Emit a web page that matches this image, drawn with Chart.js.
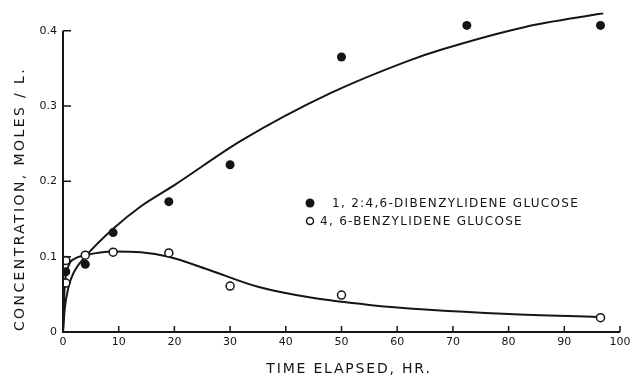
<!DOCTYPE html>
<html>
<head>
<meta charset="utf-8">
<script src="https://cdn.jsdelivr.net/npm/chart.js@4.4.1/dist/chart.umd.min.js"></script>
<style>
    html, body { margin: 0; padding: 0; background: #fff; }
</style>
</head>
<body>
<canvas id="chart" width="631" height="378"></canvas>
<script>
/* -------------------------------------------------
    DATA
------------------------------------------------- */
const xTicks = [0, 10, 20, 30, 40, 50, 60, 70, 80, 90, 100];
const yTicks = [0, 0.1, 0.2, 0.3, 0.4];

// measured points, 1,2:4,6-dibenzylidene glucose (filled dots)
const diHours = [0.5, 4, 9, 19, 30, 50, 72.5, 96.5];
const diConc = [0.08, 0.09, 0.132, 0.173, 0.222, 0.365, 0.407, 0.407];

// measured points, 4,6-benzylidene glucose (open circles)
const monoHours = [0.5, 0.5, 4, 9, 19, 30, 50, 96.5];
const monoConc = [0.095, 0.065, 0.102, 0.106, 0.105, 0.061, 0.049, 0.019];

// hand-drawn smooth curves
const diCurveHours = [0, 0.3, 1, 2, 4, 9, 14, 20, 32, 48, 62, 68, 83, 97];
const diCurveConc = [0, 0.03, 0.06, 0.08, 0.1, 0.137, 0.167, 0.195, 0.254, 0.317, 0.36, 0.375, 0.405, 0.423];
const monoCurveHours = [0, 0.3, 1, 2, 4, 9, 14, 19, 26, 35, 45, 55, 65, 80, 96];
const monoCurveConc = [0, 0.06, 0.088, 0.097, 0.102, 0.107, 0.106, 0.1, 0.083, 0.06, 0.045, 0.036, 0.03, 0.024, 0.02];

const legendLabels = ['1, 2:4,6-DIBENZYLIDENE GLUCOSE', '4, 6-BENZYLIDENE GLUCOSE'];
const xTitle = 'TIME ELAPSED, HR.';
const yTitle = 'CONCENTRATION, MOLES / L.';

const ink = '#151515';
const fontFamily = '"DejaVu Sans", sans-serif';

const toPoints = (xs, ys) => xs.map((x, i) => ({ x: x, y: ys[i] }));

/* -------------------------------------------------
    PLUGIN: axis lines with inward ticks, titles, legend
------------------------------------------------- */
const paperPlugin = {
    id: 'paper',
    afterDraw(chart) {
        const { ctx, scales: { x, y } } = chart;
        const x0 = x.getPixelForValue(0);
        const y0 = y.getPixelForValue(0);

        ctx.save();
        ctx.strokeStyle = ink;
        ctx.lineWidth = 2;
        ctx.beginPath();
        ctx.moveTo(x0, y.getPixelForValue(yTicks[yTicks.length - 1]));
        ctx.lineTo(x0, y0);
        ctx.lineTo(x.getPixelForValue(xTicks[xTicks.length - 1]), y0);
        ctx.stroke();

        ctx.lineWidth = 1.5;
        ctx.beginPath();
        yTicks.slice(1).forEach(v => {
            const py = y.getPixelForValue(v);
            ctx.moveTo(x0, py);
            ctx.lineTo(x0 + 8, py);
        });
        xTicks.slice(1).forEach(v => {
            const px = x.getPixelForValue(v);
            ctx.moveTo(px, y0);
            ctx.lineTo(px, y0 - 6);
        });
        ctx.stroke();

        // axis titles
        ctx.fillStyle = ink;
        ctx.textAlign = 'center';
        ctx.textBaseline = 'middle';
        ctx.font = '14px ' + fontFamily;
        ctx.letterSpacing = '1.8px';
        ctx.fillText(xTitle, 349, 369);
        ctx.letterSpacing = '2.4px';
        ctx.save();
        ctx.translate(20, 199);
        ctx.rotate(-Math.PI / 2);
        ctx.fillText(yTitle, 0, 0);
        ctx.restore();

        // legend
        ctx.font = '12px ' + fontFamily;
        ctx.letterSpacing = '1.3px';
        ctx.textAlign = 'left';
        ctx.beginPath();
        ctx.arc(310, 203, 4.5, 0, Math.PI * 2);
        ctx.fill();
        ctx.fillText(legendLabels[0], 332, 204);
        ctx.lineWidth = 1.5;
        ctx.beginPath();
        ctx.arc(310, 221, 3.5, 0, Math.PI * 2);
        ctx.stroke();
        ctx.fillText(legendLabels[1], 320, 222);
        ctx.restore();
    }
};

/* -------------------------------------------------
    CHART
------------------------------------------------- */
const ctx = document.getElementById('chart').getContext('2d');
new Chart(ctx, {
    type: 'scatter',
    data: {
        datasets: [
            {
                data: toPoints(diHours, diConc),
                pointRadius: 4.5,
                backgroundColor: ink,
                borderColor: ink,
                borderWidth: 0
            },
            {
                data: toPoints(monoHours, monoConc),
                pointRadius: 4,
                backgroundColor: '#fff',
                borderColor: ink,
                borderWidth: 1.5
            },
            {
                type: 'line',
                data: toPoints(diCurveHours, diCurveConc),
                borderColor: ink,
                borderWidth: 2,
                pointRadius: 0,
                cubicInterpolationMode: 'monotone',
                fill: false
            },
            {
                type: 'line',
                data: toPoints(monoCurveHours, monoCurveConc),
                borderColor: ink,
                borderWidth: 2,
                pointRadius: 0,
                cubicInterpolationMode: 'monotone',
                fill: false
            }
        ]
    },
    options: {
        responsive: false,
        animation: false,
        layout: { padding: { top: 0, right: 11, left: 0, bottom: 0 } },
        plugins: {
            legend: { display: false },
            tooltip: { enabled: false }
        },
        scales: {
            x: {
                type: 'linear',
                min: 0,
                max: 100,
                grid: { display: false, drawTicks: false },
                border: { display: false },
                afterBuildTicks: s => { s.ticks = xTicks.map(v => ({ value: v })); },
                afterFit: s => { s.height = 46; s.paddingRight = 0; s.paddingLeft = 0; },
                ticks: {
                    padding: 4,
                    color: ink,
                    maxRotation: 0,
                    autoSkip: false,
                    font: { family: fontFamily, size: 11 }
                }
            },
            y: {
                type: 'linear',
                min: 0,
                max: 0.424,
                grid: { display: false, drawTicks: false },
                border: { display: false },
                afterBuildTicks: s => { s.ticks = yTicks.map(v => ({ value: v })); },
                afterFit: s => { s.width = 63; },
                ticks: {
                    padding: 6,
                    color: ink,
                    font: { family: fontFamily, size: 11 },
                    callback: v => v === 0 ? '0' : v.toFixed(1)
                }
            }
        }
    },
    plugins: [paperPlugin]
});
</script>
</body>
</html>
